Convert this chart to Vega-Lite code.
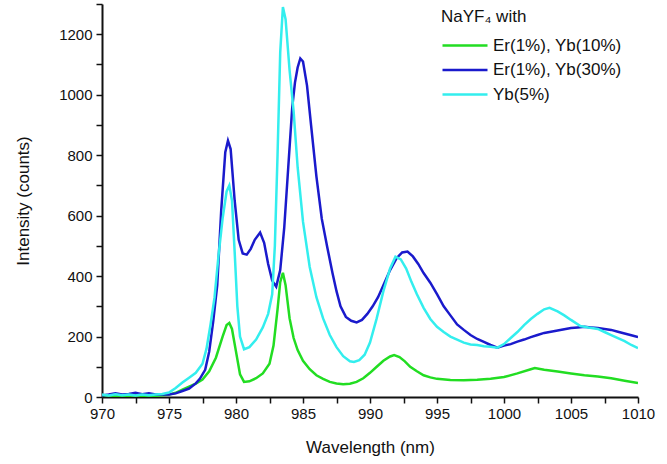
{
  "$schema": "https://vega.github.io/schema/vega-lite/v6.json",
  "width": 536,
  "height": 393,
  "autosize": {"type": "none"},
  "padding": {"left": 102, "top": 4, "right": 29, "bottom": 67},
  "background": "white",
  "config": {
    "view": {"stroke": null},
    "font": "Liberation Sans",
    "axis": {"labelFont": "Liberation Sans", "titleFont": "Liberation Sans", "domainColor": "#111", "domainWidth": 2, "tickColor": "#111", "tickWidth": 1.5, "tickSize": 6, "labelColor": "#111", "titleColor": "#111", "labelFontSize": 15, "titleFontSize": 17, "titleFontWeight": "normal", "grid": false, "format": "d"}
  },
  "datasets": {
    "spec": [
      {"s":"G","x":970,"y":4},{"s":"G","x":970.5,"y":6},{"s":"G","x":971,"y":3},{"s":"G","x":971.5,"y":5},{"s":"G","x":972,"y":4},{"s":"G","x":972.5,"y":6},{"s":"G","x":973,"y":3},{"s":"G","x":973.5,"y":5},{"s":"G","x":974,"y":4},{"s":"G","x":974.5,"y":6},{"s":"G","x":975,"y":8},{"s":"G","x":975.5,"y":14},{"s":"G","x":976,"y":24},{"s":"G","x":976.5,"y":34},{"s":"G","x":977,"y":44},{"s":"G","x":977.5,"y":58},{"s":"G","x":978,"y":85},{"s":"G","x":978.5,"y":130},{"s":"G","x":979,"y":200},{"s":"G","x":979.3,"y":238},{"s":"G","x":979.5,"y":245},{"s":"G","x":979.7,"y":225},{"s":"G","x":980,"y":150},{"s":"G","x":980.3,"y":75},{"s":"G","x":980.6,"y":50},{"s":"G","x":981,"y":52},{"s":"G","x":981.5,"y":62},{"s":"G","x":982,"y":78},{"s":"G","x":982.5,"y":110},{"s":"G","x":982.8,"y":170},{"s":"G","x":983.1,"y":290},{"s":"G","x":983.3,"y":380},{"s":"G","x":983.5,"y":411},{"s":"G","x":983.7,"y":370},{"s":"G","x":984,"y":260},{"s":"G","x":984.3,"y":195},{"s":"G","x":984.6,"y":155},{"s":"G","x":985,"y":120},{"s":"G","x":985.5,"y":92},{"s":"G","x":986,"y":72},{"s":"G","x":986.5,"y":60},{"s":"G","x":987,"y":50},{"s":"G","x":987.5,"y":45},{"s":"G","x":988,"y":42},{"s":"G","x":988.5,"y":44},{"s":"G","x":989,"y":50},{"s":"G","x":989.5,"y":62},{"s":"G","x":990,"y":80},{"s":"G","x":990.5,"y":100},{"s":"G","x":991,"y":120},{"s":"G","x":991.5,"y":134},{"s":"G","x":991.8,"y":139},{"s":"G","x":992.2,"y":132},{"s":"G","x":992.6,"y":118},{"s":"G","x":993,"y":100},{"s":"G","x":993.5,"y":85},{"s":"G","x":994,"y":72},{"s":"G","x":994.5,"y":65},{"s":"G","x":995,"y":60},{"s":"G","x":996,"y":56},{"s":"G","x":997,"y":55},{"s":"G","x":998,"y":57},{"s":"G","x":999,"y":60},{"s":"G","x":1000,"y":66},{"s":"G","x":1001,"y":78},{"s":"G","x":1002,"y":92},{"s":"G","x":1002.3,"y":96},{"s":"G","x":1003,"y":90},{"s":"G","x":1004,"y":84},{"s":"G","x":1005,"y":78},{"s":"G","x":1006,"y":72},{"s":"G","x":1007,"y":68},{"s":"G","x":1008,"y":62},{"s":"G","x":1009,"y":54},{"s":"G","x":1010,"y":46},
      {"s":"B","x":970,"y":5},{"s":"B","x":970.5,"y":8},{"s":"B","x":971,"y":12},{"s":"B","x":971.5,"y":8},{"s":"B","x":972,"y":10},{"s":"B","x":972.5,"y":14},{"s":"B","x":973,"y":9},{"s":"B","x":973.5,"y":12},{"s":"B","x":974,"y":8},{"s":"B","x":974.5,"y":8},{"s":"B","x":975,"y":8},{"s":"B","x":975.5,"y":12},{"s":"B","x":976,"y":20},{"s":"B","x":976.5,"y":28},{"s":"B","x":977,"y":45},{"s":"B","x":977.3,"y":60},{"s":"B","x":977.7,"y":90},{"s":"B","x":978,"y":150},{"s":"B","x":978.3,"y":250},{"s":"B","x":978.6,"y":370},{"s":"B","x":978.9,"y":620},{"s":"B","x":979.2,"y":810},{"s":"B","x":979.4,"y":848},{"s":"B","x":979.6,"y":820},{"s":"B","x":979.9,"y":650},{"s":"B","x":980.2,"y":520},{"s":"B","x":980.5,"y":475},{"s":"B","x":980.8,"y":471},{"s":"B","x":981.1,"y":490},{"s":"B","x":981.4,"y":520},{"s":"B","x":981.8,"y":544},{"s":"B","x":982.1,"y":510},{"s":"B","x":982.4,"y":440},{"s":"B","x":982.7,"y":385},{"s":"B","x":983,"y":365},{"s":"B","x":983.3,"y":420},{"s":"B","x":983.6,"y":560},{"s":"B","x":983.9,"y":760},{"s":"B","x":984.2,"y":960},{"s":"B","x":984.4,"y":1040},{"s":"B","x":984.6,"y":1090},{"s":"B","x":984.8,"y":1120},{"s":"B","x":985,"y":1110},{"s":"B","x":985.3,"y":1030},{"s":"B","x":985.6,"y":900},{"s":"B","x":986,"y":730},{"s":"B","x":986.4,"y":590},{"s":"B","x":986.8,"y":498},{"s":"B","x":987.2,"y":410},{"s":"B","x":987.5,"y":350},{"s":"B","x":987.8,"y":300},{"s":"B","x":988.2,"y":265},{"s":"B","x":988.6,"y":252},{"s":"B","x":989,"y":247},{"s":"B","x":989.4,"y":255},{"s":"B","x":989.8,"y":275},{"s":"B","x":990.2,"y":300},{"s":"B","x":990.6,"y":330},{"s":"B","x":991,"y":370},{"s":"B","x":991.5,"y":420},{"s":"B","x":992,"y":460},{"s":"B","x":992.4,"y":478},{"s":"B","x":992.8,"y":481},{"s":"B","x":993.2,"y":465},{"s":"B","x":993.6,"y":440},{"s":"B","x":994,"y":410},{"s":"B","x":994.5,"y":378},{"s":"B","x":995,"y":340},{"s":"B","x":995.5,"y":300},{"s":"B","x":996,"y":270},{"s":"B","x":996.5,"y":240},{"s":"B","x":997,"y":222},{"s":"B","x":997.5,"y":205},{"s":"B","x":998,"y":192},{"s":"B","x":998.5,"y":182},{"s":"B","x":999,"y":172},{"s":"B","x":999.5,"y":163},{"s":"B","x":1000,"y":170},{"s":"B","x":1000.5,"y":175},{"s":"B","x":1001,"y":183},{"s":"B","x":1001.5,"y":190},{"s":"B","x":1002,"y":198},{"s":"B","x":1002.5,"y":205},{"s":"B","x":1003,"y":212},{"s":"B","x":1003.5,"y":216},{"s":"B","x":1004,"y":220},{"s":"B","x":1004.5,"y":224},{"s":"B","x":1005,"y":228},{"s":"B","x":1005.5,"y":230},{"s":"B","x":1006,"y":232},{"s":"B","x":1006.5,"y":230},{"s":"B","x":1007,"y":228},{"s":"B","x":1007.5,"y":225},{"s":"B","x":1008,"y":222},{"s":"B","x":1008.5,"y":216},{"s":"B","x":1009,"y":210},{"s":"B","x":1009.5,"y":204},{"s":"B","x":1010,"y":198},
      {"s":"C","x":970,"y":8},{"s":"C","x":970.5,"y":5},{"s":"C","x":971,"y":9},{"s":"C","x":971.5,"y":6},{"s":"C","x":972,"y":8},{"s":"C","x":972.5,"y":5},{"s":"C","x":973,"y":8},{"s":"C","x":973.5,"y":6},{"s":"C","x":974,"y":8},{"s":"C","x":974.5,"y":10},{"s":"C","x":975,"y":15},{"s":"C","x":975.5,"y":30},{"s":"C","x":976,"y":48},{"s":"C","x":976.5,"y":64},{"s":"C","x":977,"y":80},{"s":"C","x":977.5,"y":110},{"s":"C","x":977.8,"y":160},{"s":"C","x":978.1,"y":240},{"s":"C","x":978.4,"y":330},{"s":"C","x":978.7,"y":470},{"s":"C","x":979,"y":590},{"s":"C","x":979.3,"y":680},{"s":"C","x":979.5,"y":700},{"s":"C","x":979.7,"y":650},{"s":"C","x":979.9,"y":480},{"s":"C","x":980.1,"y":300},{"s":"C","x":980.3,"y":200},{"s":"C","x":980.6,"y":158},{"s":"C","x":981,"y":165},{"s":"C","x":981.5,"y":190},{"s":"C","x":982,"y":230},{"s":"C","x":982.4,"y":275},{"s":"C","x":982.7,"y":340},{"s":"C","x":982.9,"y":500},{"s":"C","x":983.1,"y":800},{"s":"C","x":983.3,"y":1140},{"s":"C","x":983.5,"y":1290},{"s":"C","x":983.7,"y":1250},{"s":"C","x":984,"y":1080},{"s":"C","x":984.3,"y":945},{"s":"C","x":984.6,"y":760},{"s":"C","x":985,"y":580},{"s":"C","x":985.5,"y":430},{"s":"C","x":986,"y":330},{"s":"C","x":986.5,"y":260},{"s":"C","x":987,"y":205},{"s":"C","x":987.5,"y":165},{"s":"C","x":988,"y":135},{"s":"C","x":988.5,"y":118},{"s":"C","x":988.8,"y":116},{"s":"C","x":989.2,"y":122},{"s":"C","x":989.6,"y":140},{"s":"C","x":990,"y":180},{"s":"C","x":990.5,"y":260},{"s":"C","x":991,"y":350},{"s":"C","x":991.5,"y":425},{"s":"C","x":991.9,"y":464},{"s":"C","x":992.3,"y":455},{"s":"C","x":992.7,"y":425},{"s":"C","x":993.1,"y":380},{"s":"C","x":993.5,"y":340},{"s":"C","x":994,"y":295},{"s":"C","x":994.5,"y":258},{"s":"C","x":995,"y":232},{"s":"C","x":995.5,"y":215},{"s":"C","x":996,"y":200},{"s":"C","x":996.5,"y":190},{"s":"C","x":997,"y":180},{"s":"C","x":997.5,"y":174},{"s":"C","x":998,"y":172},{"s":"C","x":998.5,"y":168},{"s":"C","x":999,"y":166},{"s":"C","x":999.5,"y":163},{"s":"C","x":1000,"y":175},{"s":"C","x":1000.5,"y":195},{"s":"C","x":1001,"y":215},{"s":"C","x":1001.5,"y":238},{"s":"C","x":1002,"y":258},{"s":"C","x":1002.5,"y":275},{"s":"C","x":1003,"y":290},{"s":"C","x":1003.4,"y":295},{"s":"C","x":1004,"y":283},{"s":"C","x":1004.5,"y":270},{"s":"C","x":1005,"y":255},{"s":"C","x":1005.7,"y":235},{"s":"C","x":1006.3,"y":230},{"s":"C","x":1007,"y":225},{"s":"C","x":1007.5,"y":215},{"s":"C","x":1008,"y":205},{"s":"C","x":1008.5,"y":195},{"s":"C","x":1009,"y":185},{"s":"C","x":1009.5,"y":172},{"s":"C","x":1010,"y":162}
    ]
  },
  "data": {"name": "spec"},
  "mark": {"type": "line", "strokeWidth": 2.5, "clip": true, "interpolate": "linear"},
  "encoding": {
    "x": {"field": "x", "type": "quantitative", "title": "Wavelength (nm)",
      "scale": {"domain": [970, 1010], "nice": false, "zero": false},
      "axis": {"values": [970,972.5,975,977.5,980,982.5,985,987.5,990,992.5,995,997.5,1000,1002.5,1005,1007.5,1010], "labelExpr": "datum.value % 5 == 0 ? datum.label : ''", "labelPadding": 3, "titlePadding": 18, "labelFlush": false}},
    "y": {"field": "y", "type": "quantitative", "title": "Intensity (counts)",
      "scale": {"domain": [0, 1300], "nice": false},
      "axis": {"values": [0,100,200,300,400,500,600,700,800,900,1000,1100,1200,1300], "labelExpr": "datum.value % 200 == 0 ? datum.label : ''", "labelPadding": 4, "titlePadding": 26}},
    "color": {"field": "s", "type": "nominal", "sort": ["G","B","C"],
      "scale": {"domain": ["G","B","C"], "range": ["#22dd22", "#1a1acc", "#33eeee"]},
      "legend": {"title": "NaYF₄ with", "orient": "none", "legendX": 339, "legendY": 5,
        "labelExpr": "datum.value == 'G' ? 'Er(1%), Yb(10%)' : datum.value == 'B' ? 'Er(1%), Yb(30%)' : 'Yb(5%)'",
        "symbolType": "M-3,0H3", "symbolSize": 225, "symbolStrokeWidth": 2.5, "symbolOffset": 15,
        "labelFontSize": 17, "titleFontSize": 17, "titleFontWeight": "normal", "titleColor": "#111", "labelColor": "#111",
        "labelFont": "Liberation Sans", "titleFont": "Liberation Sans", "labelOffset": 19, "rowPadding": 7.5, "titlePadding": 10.5}}
  }
}
